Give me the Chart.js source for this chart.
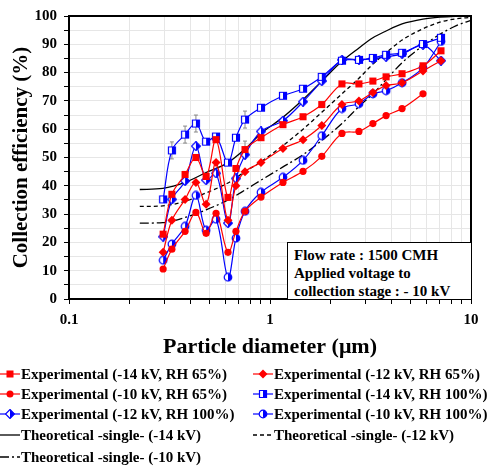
<!DOCTYPE html>
<html>
<head>
<meta charset="utf-8">
<script src="https://cdn.jsdelivr.net/npm/chart.js@4.4.1/dist/chart.umd.min.js"></script>
<style>
  html, body { margin: 0; padding: 0; background: #fff; }
  #wrap { position: relative; width: 491px; height: 467px; font-family: "Liberation Serif", "Times New Roman", serif; font-weight: bold; }
  #chartBox { position: absolute; left: 0; top: 0; width: 491px; height: 365px; }
  #note { position: absolute; left: 287px; top: 242px; width: 185px; height: 58px; border: 1.5px solid #000;
          background: #fff; font-size: 15px; line-height: 18px; padding: 3px 0 0 6px; box-sizing: border-box; }
  .item { position: absolute; height: 20px; line-height: 20px; font-size: 15px; white-space: nowrap; }
  .item canvas { position: absolute; left: 0; top: 4px; }
</style>
</head>
<body>
<div id="wrap">
  <div id="chartBox"><canvas id="c"></canvas></div>
  <div id="note">Flow rate : 1500 CMH<br>Applied voltage to<br>collection stage : - 10 kV</div>
  <div id="legend"></div>
</div>
<script>
/* --- données --- */
const diam = [0.294, 0.325, 0.378, 0.428, 0.481, 0.539, 0.618, 0.677, 0.751, 0.902,
              1.16, 1.46, 1.81, 2.28, 2.77, 3.25, 3.78, 4.54, 5.77, 7.09];

const ex14rh65  = [22.9, 37.0, 44.0, 50.0, 43.3, 56.3, 35.9, 46.1, 52.8, 57.0, 61.6, 64.4, 68.7, 76.0, 76.0, 77.0, 78.5, 79.6, 82.4, 87.7];
const ex12rh65  = [16.5, 27.8, 35.2, 41.2, 33.5, 48.2, 27.8, 40.0, 45.0, 48.2, 53.2, 56.3, 61.3, 68.7, 70.0, 73.0, 75.4, 76.4, 80.6, 84.2];
const ex10rh65  = [10.6, 17.6, 23.9, 30.6, 23.2, 30.3, 16.5, 23.9, 31.0, 36.0, 41.2, 45.1, 50.4, 58.5, 59.2, 62.0, 64.8, 67.3, 72.5, null];
const ex14rh100 = [35.2, 52.5, 58.1, 62.0, 55.6, 57.4, 48.2, 57.0, 63.4, 67.6, 71.8, 74.3, 78.5, 84.2, 84.5, 85.2, 86.3, 87.0, 90.1, 92.3];
const ex12rh100 = [22.0, 35.2, 41.7, 54.0, 42.0, 44.4, 26.8, 42.6, 51.0, 59.2, 63.0, 69.7, 77.0, 84.5, 84.5, 84.9, 85.6, 86.6, 89.8, 84.2];
const ex10rh100 = [13.7, 19.4, 25.7, 36.6, 24.3, 28.2, 7.7, 21.5, 31.0, 37.7, 43.0, 49.0, 57.7, 67.3, 69.0, 72.5, 73.6, 76.4, 81.7, 91.0];

// barres d'erreur (quelques points seulement)
const err14rh100 = [0, 3, 3, 3, 0, 0, 0, 0, 3, 0, 0, 0, 0, 0, 0, 0, 0, 0, 0, 0];
const err14rh65  = [0, 0, 0, 0, 0, 0, 0, 0, 3, 0, 0, 0, 0, 0, 0, 0, 0, 0, 0, 0];

const theoDiam = [0.225, 0.293, 0.378, 0.481, 0.618, 0.751, 0.902, 1.15, 1.46, 1.81,
                  2.28, 2.77, 3.25, 3.78, 4.54, 5.77, 7.0, 8.4, 10];
const th14 = [38.7, 39.1, 41.2, 44.7, 48.2, 53.0, 58.5, 64.0, 70.5, 77.0, 84.0, 88.7, 92.3, 94.7, 97.2, 98.9, 99.6, 99.9, 100];
const th12 = [32.7, 32.9, 34.5, 37.5, 41.0, 45.0, 48.5, 54.0, 60.0, 66.0, 72.5, 78.0, 83.0, 87.0, 91.5, 95.5, 97.8, 99.0, 99.5];
const th10 = [26.8, 27.0, 28.8, 31.5, 35.0, 38.5, 42.0, 46.5, 51.0, 56.0, 62.0, 68.0, 72.5, 77.5, 83.5, 89.5, 93.5, 96.5, 98.5];

const xTicks = [0.1,0.2,0.3,0.4,0.5,0.6,0.7,0.8,0.9,1,2,3,4,5,6,7,8,9,10];
const xLabels = [0.1, 1, 10];

const RED = '#ff0000', BLUE = '#0000ff';

/* --- marqueurs demi-remplis (série bleue) --- */
function halfMarker(shape) {
  const c = document.createElement('canvas');
  c.width = 10; c.height = 10;
  const g = c.getContext('2d');
  const path = () => {
    g.beginPath();
    if (shape === 'sq') g.rect(1.5, 1.5, 7, 7);
    else if (shape === 'di') { g.moveTo(5, 0.5); g.lineTo(9.5, 5); g.lineTo(5, 9.5); g.lineTo(0.5, 5); g.closePath(); }
    else g.arc(5, 5, 3.8, 0, Math.PI * 2);
  };
  path(); g.fillStyle = '#fff'; g.fill();
  g.save(); g.beginPath(); g.rect(5, 0, 5, 10); g.clip();
  path(); g.fillStyle = BLUE; g.fill(); g.restore();
  path(); g.strokeStyle = BLUE; g.lineWidth = 1.2; g.stroke();
  return c;
}
const mkSq = halfMarker('sq'), mkDi = halfMarker('di'), mkCi = halfMarker('ci');

const pts = (xs, ys) => xs.map((x, i) => ({x, y: ys[i]})).filter(p => p.y != null);

const expe = (label, ys, col, style, r) => ({
  label, data: pts(diam, ys), borderColor: col, backgroundColor: col,
  borderWidth: 1.2, pointStyle: style, pointRadius: r, pointHoverRadius: r,
  pointBorderWidth: 0, tension: 0.35
});
const theo = (label, ys, dash) => ({
  label, data: pts(theoDiam, ys), borderColor: '#000', borderWidth: 1.3,
  borderDash: dash, pointRadius: 0, cubicInterpolationMode: 'monotone'
});

const datasets = [
  expe('Experimental (-14 kV, RH 65%)',  ex14rh65,  RED,  'rect',    5),
  expe('Experimental (-12 kV, RH 65%)',  ex12rh65,  RED,  'rectRot', 4.5),
  expe('Experimental (-10 kV, RH 65%)',  ex10rh65,  RED,  'circle',  3.6),
  expe('Experimental (-14 kV, RH 100%)', ex14rh100, BLUE, mkSq, 5),
  expe('Experimental (-12 kV, RH 100%)', ex12rh100, BLUE, mkDi, 5),
  expe('Experimental (-10 kV, RH 100%)', ex10rh100, BLUE, mkCi, 5),
  theo('Theoretical -single- (-14 kV)', th14, []),
  theo('Theoretical -single- (-12 kV)', th12, [4, 3]),
  theo('Theoretical -single- (-10 kV)', th10, [9, 3, 2, 3])
];
datasets[0].errors = err14rh65;
datasets[3].errors = err14rh100;

/* --- cadre + barres d'erreur --- */
const extras = {
  id: 'extras',
  beforeDatasetsDraw(chart) {
    const {ctx, scales: {x, y}} = chart;
    ctx.save();
    ctx.strokeStyle = '#888'; ctx.lineWidth = 1;
    chart.data.datasets.forEach(ds => {
      if (!ds.errors) return;
      ds.data.forEach((p, i) => {
        const e = ds.errors[i];
        if (!e) return;
        const px = x.getPixelForValue(p.x), y1 = y.getPixelForValue(p.y + e), y2 = y.getPixelForValue(p.y - e);
        ctx.beginPath();
        ctx.moveTo(px, y1); ctx.lineTo(px, y2);
        ctx.moveTo(px - 2, y1); ctx.lineTo(px + 2, y1);
        ctx.moveTo(px - 2, y2); ctx.lineTo(px + 2, y2);
        ctx.stroke();
      });
    });
    ctx.restore();
  },
  afterDraw(chart) {
    const {ctx, chartArea: a} = chart;
    ctx.save();
    ctx.strokeStyle = '#000'; ctx.lineWidth = 2;
    ctx.strokeRect(a.left, a.top, a.right - a.left, a.bottom - a.top);
    ctx.restore();
  }
};

Chart.defaults.font.family = '"Liberation Serif", "Times New Roman", serif';
Chart.defaults.font.weight = 'bold';
Chart.defaults.color = '#000';

new Chart(document.getElementById('c'), {
  type: 'line',
  data: {datasets},
  plugins: [extras],
  options: {
    responsive: true, maintainAspectRatio: false, animation: false,
    layout: {padding: {top: 15, right: 20, left: 0, bottom: 0}},
    plugins: {legend: {display: false}, tooltip: {enabled: false}},
    scales: {
      x: {
        type: 'logarithmic', min: 0.1, max: 10,
        afterBuildTicks: s => { s.ticks = xTicks.map(v => ({value: v})); },
        afterFit: s => { s.height = 66; },
        ticks: {autoSkip: false, maxRotation: 0, padding: 7, font: {size: 15},
                callback: v => xLabels.includes(v) ? String(v) : ''},
        grid: {color: '#e6e6e6', tickColor: '#000', tickLength: 5, lineWidth: 1},
        border: {color: '#000', width: 2},
        title: {display: true, text: 'Particle diameter (μm)', font: {size: 22}, padding: {top: 0, bottom: 4}}
      },
      y: {
        min: 0, max: 100,
        afterBuildTicks: s => { s.ticks = Array.from({length: 21}, (_, i) => ({value: i * 5})); },
        afterFit: s => { s.width = 69; },
        ticks: {autoSkip: false, padding: 7, font: {size: 15},
                callback: v => v % 10 === 0 ? String(v) : ''},
        grid: {color: '#e6e6e6', tickColor: '#000', tickLength: 5, lineWidth: 1},
        border: {color: '#000', width: 2},
        title: {display: true, text: 'Collection efficiency (%)', font: {size: 21}, padding: {top: 9, bottom: 0}}
      }
    }
  }
});

/* --- légende HTML, deux colonnes --- */
const rowsY = [374, 394, 414, 435, 457];
const colsX = [0, 253];
const legend = document.getElementById('legend');
datasets.forEach((ds, i) => {
  const div = document.createElement('div');
  div.className = 'item';
  div.style.left = colsX[i % 2] + 'px';
  div.style.top = (rowsY[Math.floor(i / 2)] - 10) + 'px';
  div.style.paddingLeft = '21px';
  const cv = document.createElement('canvas');
  cv.width = 20; cv.height = 12;
  const g = cv.getContext('2d');
  g.strokeStyle = ds.borderColor; g.lineWidth = ds.borderWidth;
  g.setLineDash(ds.borderDash || []);
  g.beginPath(); g.moveTo(0, 6); g.lineTo(20, 6); g.stroke();
  g.setLineDash([]);
  g.fillStyle = ds.borderColor;
  const st = ds.pointStyle;
  if (ds.pointRadius) {
    if (st instanceof HTMLCanvasElement) g.drawImage(st, 5, 1);
    else if (st === 'rect') g.fillRect(6.5, 2.5, 7, 7);
    else if (st === 'rectRot') { g.beginPath(); g.moveTo(10, 1.5); g.lineTo(14.5, 6); g.lineTo(10, 10.5); g.lineTo(5.5, 6); g.fill(); }
    else { g.beginPath(); g.arc(10, 6, 3.5, 0, Math.PI * 2); g.fill(); }
  }
  div.appendChild(cv);
  div.appendChild(document.createTextNode(ds.label));
  legend.appendChild(div);
});
</script>
</body>
</html>
